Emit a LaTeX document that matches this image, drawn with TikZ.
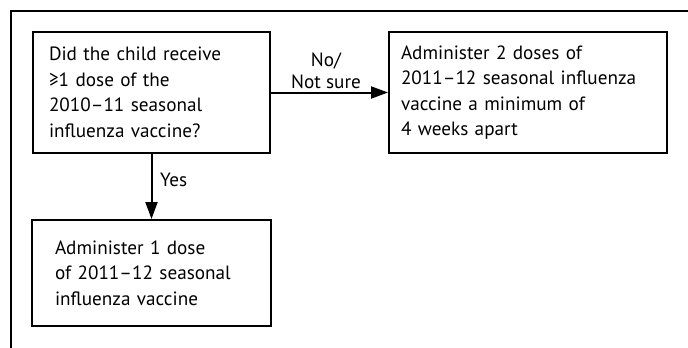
\documentclass[tikz,border=0pt]{standalone}
\usepackage{fontspec}
\setmainfont{PT Sans}
\usepackage{tikz}
\usetikzlibrary{arrows.meta,positioning}

\begin{document}
\begin{tikzpicture}[
    x=1pt, y=-1pt,
    box/.style={rectangle, draw=black, line width=2pt, align=left, font=\fontsize{19.2}{25.5}\selectfont},
    lbl/.style={font=\fontsize{19.2}{22}\selectfont, inner sep=0pt},
    flow/.style={line width=2pt, -{Triangle[length=17pt,width=12pt]}}
]
\useasboundingbox (0,0) rectangle (688,348);

% Outer frame (cut off at right and bottom)
\draw[line width=2pt] (11,360) -- (11,11) -- (700,11);

% Question box
\node[box, minimum width=237pt, minimum height=121pt, inner xsep=16pt, text width=205pt] (ask) at (151.5,92.5)
    {Did the child receive\\≥1 dose of the\\2010–11 seasonal\\influenza vaccine?};

% Two doses
\node[box, minimum width=278pt, minimum height=121pt, inner xsep=12pt, text width=254pt] (two) at (528,92.5)
    {Administer 2 doses of\\2011–12 seasonal influenza\\vaccine a minimum of\\4 weeks apart};

% One dose
\node[box, minimum width=239pt, minimum height=106pt, inner xsep=23pt, text width=193pt] (one) at (151.5,273)
    {Administer 1 dose\\of 2011–12 seasonal\\influenza vaccine};

% Connections
\draw[flow] (ask) -- (two);
\draw[flow] (ask) -- (one);

% Labels
\node[lbl, align=center, anchor=south] (nolbl) at (326,89) {No/\\Not sure};
\node[lbl, anchor=base west] (yeslbl) at (160,186) {Yes};

\end{tikzpicture}
\end{document}
